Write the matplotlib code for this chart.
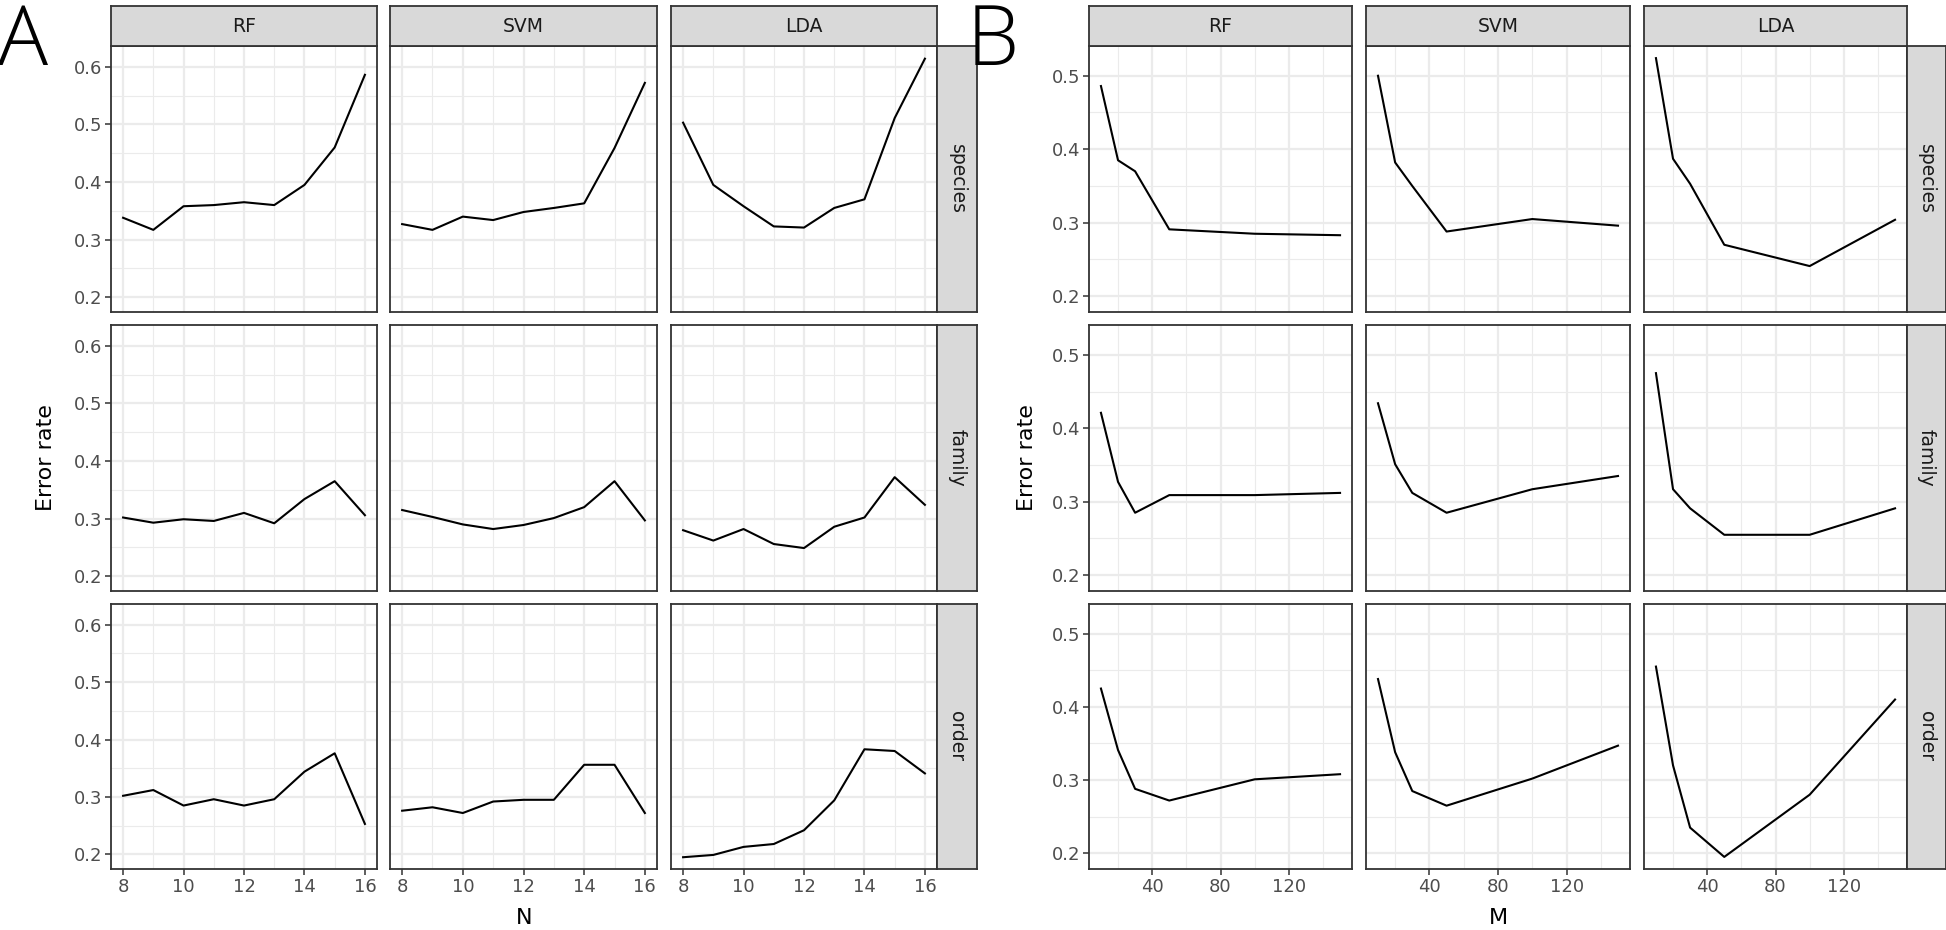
import numpy as np
import matplotlib.pyplot as plt

# facet labels
classifiers = ["RF", "SVM", "LDA"]
levels = ["species", "family", "order"]

# panel A: error rate against N
n_vals = [8, 9, 10, 11, 12, 13, 14, 15, 16]
a_species_rf = [0.338, 0.317, 0.358, 0.360, 0.365, 0.360, 0.395, 0.460, 0.586]
a_species_svm = [0.327, 0.317, 0.340, 0.334, 0.348, 0.355, 0.363, 0.459, 0.572]
a_species_lda = [0.503, 0.395, 0.358, 0.323, 0.321, 0.355, 0.370, 0.511, 0.614]
a_family_rf = [0.302, 0.293, 0.299, 0.296, 0.310, 0.292, 0.334, 0.365, 0.306]
a_family_svm = [0.315, 0.303, 0.290, 0.282, 0.289, 0.301, 0.320, 0.365, 0.297]
a_family_lda = [0.280, 0.262, 0.282, 0.256, 0.249, 0.286, 0.302, 0.372, 0.324]
a_order_rf = [0.302, 0.312, 0.285, 0.296, 0.285, 0.296, 0.344, 0.376, 0.253]
a_order_svm = [0.276, 0.282, 0.272, 0.292, 0.295, 0.295, 0.356, 0.356, 0.272]
a_order_lda = [0.195, 0.199, 0.213, 0.218, 0.242, 0.294, 0.383, 0.380, 0.341]

# panel B: error rate against M
m_vals = [10, 20, 30, 50, 100, 150]
b_species_rf = [0.486, 0.385, 0.370, 0.291, 0.285, 0.283]
b_species_svm = [0.500, 0.382, 0.350, 0.288, 0.305, 0.296]
b_species_lda = [0.524, 0.387, 0.353, 0.270, 0.241, 0.304]
b_family_rf = [0.421, 0.327, 0.285, 0.309, 0.309, 0.312]
b_family_svm = [0.434, 0.351, 0.312, 0.285, 0.317, 0.335]
b_family_lda = [0.475, 0.317, 0.291, 0.255, 0.255, 0.291]
b_order_rf = [0.425, 0.341, 0.288, 0.272, 0.301, 0.308]
b_order_svm = [0.438, 0.338, 0.285, 0.265, 0.302, 0.347]
b_order_lda = [0.455, 0.320, 0.235, 0.195, 0.280, 0.410]

a_data = [[a_species_rf, a_species_svm, a_species_lda],
          [a_family_rf, a_family_svm, a_family_lda],
          [a_order_rf, a_order_svm, a_order_lda]]
b_data = [[b_species_rf, b_species_svm, b_species_lda],
          [b_family_rf, b_family_svm, b_family_lda],
          [b_order_rf, b_order_svm, b_order_lda]]

W, H = 1946, 930
plt.rcParams['font.family'] = ['DejaVu Sans']
fig = plt.figure(figsize=(W / 100, H / 100), dpi=100)

BORDER = "#333333"
GRID = "#EBEBEB"
STRIP = "#D9D9D9"


def px_box(x0, y0, x1, y1):
    # pixel box (top-left origin) -> figure fraction rect
    return [x0 / W, 1 - y1 / H, (x1 - x0) / W, (y1 - y0) / H]


def strip(x0, y0, x1, y1, label, rot=0):
    ax = fig.add_axes(px_box(x0, y0, x1, y1))
    ax.set_facecolor(STRIP)
    ax.set_xticks([])
    ax.set_yticks([])
    for s in ax.spines.values():
        s.set_color(BORDER)
        s.set_linewidth(1.3)
    ax.text(0.5, 0.5, label, transform=ax.transAxes, ha="center", va="center",
            fontsize=13.5, color="#1A1A1A", rotation=rot)


def facet_grid(data, xs, cols_x, rows_y, strip_w, xlim, ylim, xmaj, xmin_, ymaj, ymin_, xlabel, ylabel_x):
    for r, row_y in enumerate(rows_y):
        for c, col_x in enumerate(cols_x):
            ax = fig.add_axes(px_box(col_x[0], row_y[0], col_x[1], row_y[1]))
            ax.set_xlim(*xlim)
            ax.set_ylim(*ylim)
            ax.set_xticks(xmaj)
            ax.set_xticks(xmin_, minor=True)
            ax.set_yticks(ymaj)
            ax.set_yticks(ymin_, minor=True)
            ax.grid(True, which="major", color=GRID, linewidth=1.6)
            ax.grid(True, which="minor", color=GRID, linewidth=0.8)
            ax.set_axisbelow(True)
            ax.plot(xs, data[r][c], color="black", linewidth=1.5)
            for s in ax.spines.values():
                s.set_color(BORDER)
                s.set_linewidth(1.3)
            ax.tick_params(which="minor", length=0)
            ax.tick_params(which="major", length=4, width=1.1, color=BORDER,
                           labelsize=13, labelcolor="#4D4D4D", pad=2.5)
            if c == 0:
                ax.set_yticklabels([f"{v:.1f}" for v in ymaj])
            else:
                ax.tick_params(axis="y", which="major", length=0, labelleft=False)
            if r == len(rows_y) - 1:
                ax.set_xticklabels([str(v) for v in xmaj])
            else:
                ax.tick_params(axis="x", which="major", length=0, labelbottom=False)
            if r == 0:
                strip(col_x[0], 6, col_x[1], row_y[0], classifiers[c])
        strip(cols_x[-1][1], row_y[0], cols_x[-1][1] + strip_w, row_y[1], levels[r], rot=-90)

    xc = (cols_x[0][0] + cols_x[-1][1]) / 2
    fig.text(xc / W, 1 - 918 / H, xlabel, ha="center", va="center", fontsize=16, color="black")
    yc = (rows_y[0][0] + rows_y[-1][1]) / 2
    fig.text(ylabel_x / W, 1 - yc / H, "Error rate", ha="center", va="center",
             rotation=90, fontsize=16, color="black")


rows_y = [(46, 312), (325, 591), (604, 869)]

# panel A
cols_a = [(111, 377), (390, 657), (671, 937)]
facet_grid(a_data, n_vals, cols_a, rows_y, 40, (7.6, 16.4), (0.1745, 0.636),
           [8, 10, 12, 14, 16], [9, 11, 13, 15],
           [0.2, 0.3, 0.4, 0.5, 0.6], [0.25, 0.35, 0.45, 0.55],
           "N", 46)

# panel B
cols_b = [(1089, 1352), (1366, 1630), (1644, 1907)]
facet_grid(b_data, m_vals, cols_b, rows_y, 39, (3, 157), (0.1785, 0.5405),
           [40, 80, 120], [20, 60, 100, 140],
           [0.2, 0.3, 0.4, 0.5], [0.25, 0.35, 0.45],
           "M", 1027)

# panel letters
fig.text(-2 / W, 1 - 65 / H, "A", ha="left", va="baseline", fontsize=60,
         family=["Open Sans", "DejaVu Sans"], fontweight="light")
fig.text(967 / W, 1 - 65 / H, "B", ha="left", va="baseline", fontsize=60,
         family=["Open Sans", "DejaVu Sans"], fontweight="light")

fig.savefig("out.png", dpi=100, facecolor="white")
